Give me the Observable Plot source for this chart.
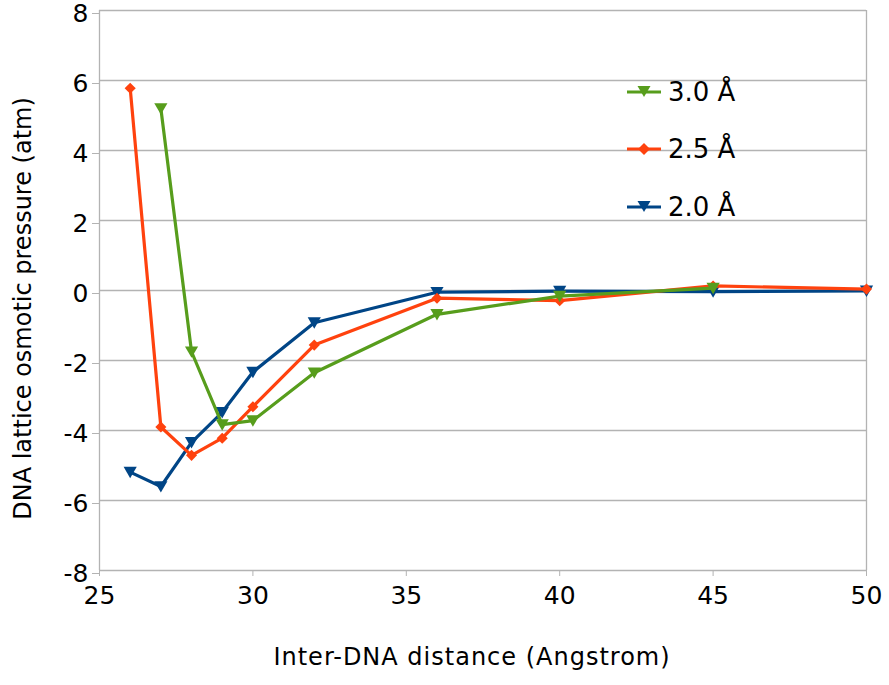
<!DOCTYPE html>
<html>
<head>
<meta charset="utf-8">
<script src="https://cdn.jsdelivr.net/npm/d3@7"></script>
<script src="https://cdn.jsdelivr.net/npm/@observablehq/plot@0.6"></script>
<style>
  body { margin: 0; background: white; }
  #wrap { position: relative; width: 889px; height: 685px; font-family: "DejaVu Sans", sans-serif; }
  #legend { position: absolute; left: 626px; top: 63px; }
  .item { display: flex; align-items: center; height: 57.5px; font-size: 26px; color: #000; }
  .item svg { margin-right: 6px; }
</style>
</head>
<body>
<div id="wrap">
  <div id="chart"></div>
  <div id="legend"></div>
</div>
<script>
// Data
const distances = [26, 27, 28, 29, 30, 32, 36, 40, 45, 50];
const seriesNames = ["3.0 Å", "2.5 Å", "2.0 Å"];
const pressure30 = [null, 5.2, -1.75, -3.83, -3.72, -2.35, -0.68, -0.16, 0.07, null];
const pressure25 = [5.78, -3.9, -4.71, -4.22, -3.32, -1.56, -0.22, -0.29, 0.13, 0.04];
const pressure20 = [-5.19, -5.6, -4.34, -3.48, -2.33, -0.92, -0.05, -0.02, -0.03, -0.01];
const xTicks = [25, 30, 35, 40, 45, 50];
const yTicks = [-8, -6, -4, -2, 0, 2, 4, 6, 8];
const xLabel = "Inter-DNA distance (Angstrom)";
const yLabel = "DNA lattice osmotic pressure (atm)";

const colors = {"3.0 Å": "#579d1c", "2.5 Å": "#ff420e", "2.0 Å": "#004586"};

const triangleDown = {
  draw(ctx, size) {
    const a = Math.sqrt(size / (3 * Math.sqrt(3)));
    ctx.moveTo(-Math.sqrt(3) * a, -1.4 * a);
    ctx.lineTo(Math.sqrt(3) * a, -1.4 * a);
    ctx.lineTo(0, 1.6 * a);
    ctx.closePath();
  }
};

function rows(values, name) {
  return distances.map((d, i) => ({x: d, y: values[i], s: name})).filter(r => r.y != null);
}
const d20 = rows(pressure20, "2.0 Å");
const d25 = rows(pressure25, "2.5 Å");
const d30 = rows(pressure30, "3.0 Å");

const grid = "#b3b3b3";
const fmt = d => String(d);

const chart = Plot.plot({
  width: 889,
  height: 685,
  marginLeft: 99,
  marginRight: 23,
  marginTop: 10,
  marginBottom: 115,
  style: {fontFamily: "DejaVu Sans, sans-serif", background: "white", color: "black", overflow: "visible"},
  x: {domain: [25, 50]},
  y: {domain: [-8, 8]},
  marks: [
    Plot.ruleY(yTicks, {stroke: grid, strokeWidth: 1.3}),
    Plot.ruleX([25, 50], {stroke: grid, strokeWidth: 1.3}),
    Plot.axisX({ticks: xTicks, tickFormat: fmt, tickSize: 6, tickPadding: 10, fontSize: 25, stroke: grid, fill: "black", label: null}),
    Plot.axisY({ticks: yTicks, tickFormat: fmt, tickSize: 7, tickPadding: 4, fontSize: 25, stroke: grid, fill: "black", label: null, dy: 3}),
    Plot.text([xLabel], {frameAnchor: "bottom", dy: 94, dx: -11, fontSize: 24, fill: "black"}),
    Plot.text([yLabel], {frameAnchor: "left", textAnchor: "middle", rotate: -90, dx: -76, dy: 18, fontSize: 24, fill: "black"}),
    Plot.line(d20, {x: "x", y: "y", stroke: colors["2.0 Å"], strokeWidth: 3.2}),
    Plot.dot(d20, {x: "x", y: "y", symbol: triangleDown, r: 4.9, fill: colors["2.0 Å"], stroke: "none"}),
    Plot.line(d25, {x: "x", y: "y", stroke: colors["2.5 Å"], strokeWidth: 3.2}),
    Plot.dot(d25, {x: "x", y: "y", symbol: "diamond2", r: 5, fill: colors["2.5 Å"], stroke: "none"}),
    Plot.line(d30, {x: "x", y: "y", stroke: colors["3.0 Å"], strokeWidth: 3.2}),
    Plot.dot(d30, {x: "x", y: "y", symbol: triangleDown, r: 4.9, fill: colors["3.0 Å"], stroke: "none"})
  ]
});
document.getElementById("chart").appendChild(chart);
chart.querySelectorAll("text").forEach(t => {
  if (t.textContent === xLabel) t.setAttribute("letter-spacing", "1");
});

// Legend
const legend = document.getElementById("legend");
for (const name of seriesNames) {
  const c = colors[name];
  const marker = name === "2.5 Å"
    ? `<path d="M18,5 L24,11 L18,17 L12,11 Z" fill="${c}"/>`
    : `<path d="M11.5,5 L24.5,5 L18,16 Z" fill="${c}"/>`;
  const item = document.createElement("div");
  item.className = "item";
  item.innerHTML = `<svg width="36" height="22" viewBox="0 0 36 22"><line x1="1" y1="11" x2="35" y2="11" stroke="${c}" stroke-width="3"/>${marker}</svg><span>${name}</span>`;
  legend.appendChild(item);
}
</script>
</body>
</html>
